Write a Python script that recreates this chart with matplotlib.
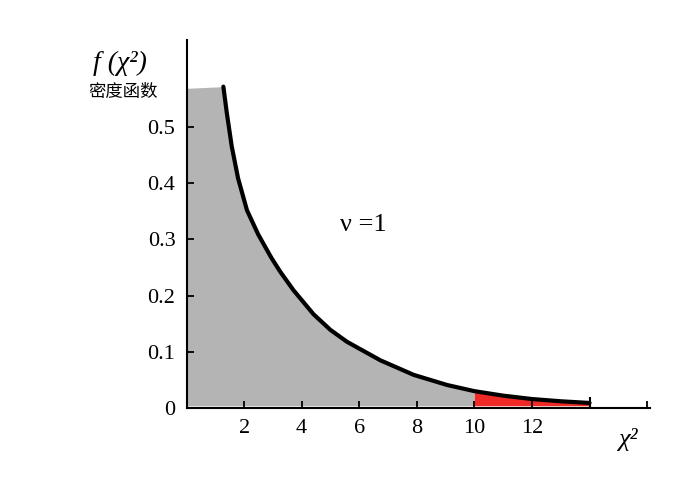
import numpy as np
import matplotlib.pyplot as plt

# density curve
curve_x = [1.28, 1.40, 1.57, 1.79, 2.10, 2.49, 2.94, 3.25, 3.71, 4.41,
           5.0, 5.57, 6.73, 7.89, 9.05, 10.0, 11.0, 12.0, 13.0, 14.0]
curve_y = [0.572, 0.525, 0.466, 0.409, 0.352, 0.309, 0.268, 0.243, 0.210, 0.167,
           0.139, 0.118, 0.085, 0.059, 0.041, 0.030, 0.022, 0.016, 0.012, 0.009]
top_level = 0.569         # flat grey top left of the curve
crit = 10                 # start of the red tail
xticks = [2, 4, 6, 8, 10, 12, 16]
xlabels = ['2', '4', '6', '8', '10', '12', '']
yticks = [0, 0.1, 0.2, 0.3, 0.4, 0.5]
ylabels = ['0', '0.1', '0.2', '0.3', '0.4', '0.5']

serif = 'Liberation Serif'
cx = np.array(curve_x)
cy = np.array(curve_y)

fig = plt.figure(figsize=(6.88, 4.92), dpi=100)
ax = fig.add_axes([0.2711, 0.1707, 0.6737, 0.748])
ax.set_xlim(0, 16.1)
ax.set_ylim(0, 0.655)

base = 0.004
gx = np.concatenate([[0], cx[cx <= crit]])
gy = np.concatenate([[top_level], cy[cx <= crit]])
ax.fill_between(gx, base, gy, color='#b4b4b4', lw=0, zorder=1)
m = cx >= crit
ax.fill_between(cx[m], base, cy[m], color='#f02a26', lw=0, zorder=1)
ax.plot(cx, cy, color='black', lw=3, solid_capstyle='round',
        solid_joinstyle='round', zorder=3)
ax.plot(cx[-1:], cy[-1:], marker='|', ms=8, mew=1.5, color='black', zorder=3)

for s in ['top', 'right']:
    ax.spines[s].set_visible(False)
for s in ['left', 'bottom']:
    ax.spines[s].set_linewidth(1.5)

ax.set_xticks(xticks)
ax.set_xticklabels(xlabels, fontfamily=serif, fontsize=16)
ax.set_yticks(yticks)
ax.set_yticklabels(ylabels, fontfamily=serif, fontsize=16)
ax.tick_params(direction='in', length=5, width=1.3, pad=8)
ax.yaxis.get_major_ticks()[0].tick1line.set_visible(False)

ax.text(5.34, 0.326, 'ν =1', fontfamily=serif, fontsize=19, va='center')
ax.text(15.0, -0.035, 'χ²', fontfamily=serif, fontsize=19, style='italic',
        va='top', clip_on=False)

fig.text(93 / 688, 1 - 63 / 492, 'f (χ²)', fontfamily=serif, fontsize=20,
         style='italic', va='center')
fig.text(88 / 688, 1 - 92 / 492, '密度函数', fontfamily='Noto Sans CJK SC',
         fontsize=12.5, va='center')

fig.savefig('out.png', dpi=100)
